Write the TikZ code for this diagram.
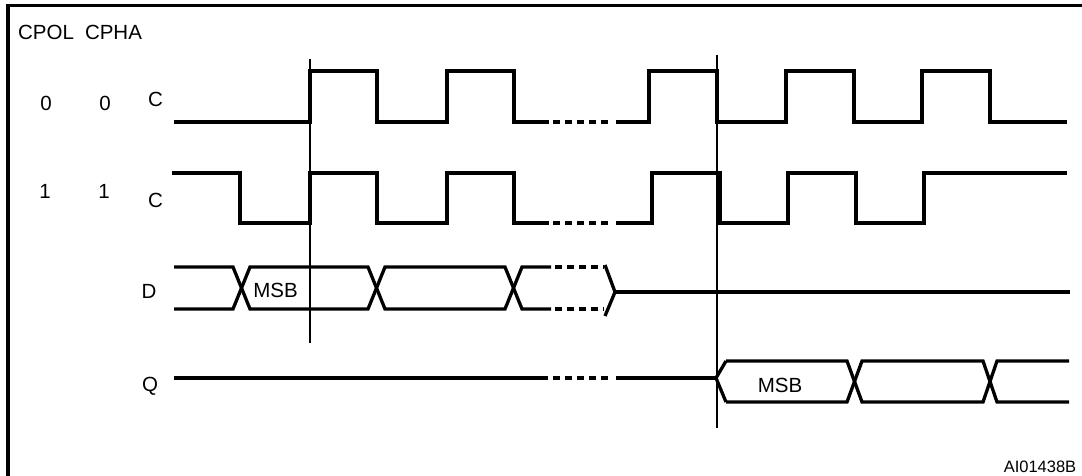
\documentclass[tikz,border=0pt]{standalone}
\usepackage{fontspec}
\setmainfont{Liberation Sans}
\begin{document}
\begin{tikzpicture}[x=1pt,y=-1pt,
  sig/.style={line width=3.3pt,line join=miter,line cap=butt},
  sigdash/.style={line width=3.3pt,dash pattern=on 7pt off 5pt},
  marker/.style={line width=1.4pt},
  frame/.style={line width=3.2pt},
  lbl/.style={font=\fontsize{20.5}{24}\selectfont,inner sep=0pt,anchor=center},
  idlbl/.style={font=\fontsize{16.5}{19}\selectfont,inner sep=0pt,anchor=center}]
\useasboundingbox (0,0) rectangle (1082,475);
\fill[white] (0,0) rectangle (1082,475);
% frame (only top and left edges visible)
\draw[frame] (8,480) -- (8,5.5) -- (1090,5.5);
% labels
\node[lbl] (cpol) at (46,32) {CPOL};
\node[lbl] (cpha) at (113.5,32) {CPHA};
\node[lbl] (pol0) at (46,103) {0};
\node[lbl] (pha0) at (105,103) {0};
\node[lbl] (c0) at (155.5,99.5) {C};
\node[lbl] (pol1) at (45,191) {1};
\node[lbl] (pha1) at (104,191) {1};
\node[lbl] (c1) at (155.5,200) {C};
\node[lbl] (dl) at (149,291) {D};
\node[lbl] (ql) at (150,386) {Q};
\node[lbl] (msbd) at (275.5,290) {MSB};
\node[lbl] (msbq) at (780,385) {MSB};
\node[idlbl] (aid) at (1040,467) {AI01438B};
% marker lines
\draw[marker] (310,59) -- (310,343);
\draw[marker] (717,55) -- (717,428);
% clock CPOL=0 CPHA=0
\draw[sig] (174,122) -- (310,122) -- (310,71) -- (377,71) -- (377,122) -- (447,122) -- (447,71) -- (514,71) -- (514,122) -- (549,122);
\draw[sigdash] (553,122) -- (612,122);
\draw[sig] (616,122) -- (649,122) -- (649,71) -- (717,71) -- (717,122) -- (786,122) -- (786,71) -- (854,71) -- (854,122) -- (922,122) -- (922,71) -- (990,71) -- (990,122) -- (1067,122);
% clock CPOL=1 CPHA=1
\draw[sig] (172,173) -- (240,173) -- (240,223) -- (310,223) -- (310,173) -- (377,173) -- (377,223) -- (447,223) -- (447,173) -- (514,173) -- (514,223) -- (549,223);
\draw[sigdash] (553,223) -- (612,223);
\draw[sig] (616,223) -- (652,223) -- (652,173) -- (720,173) -- (720,223) -- (788,223) -- (788,173) -- (856,173) -- (856,223) -- (924,223) -- (924,173) -- (1067,173);
% D
\draw[sig] (174,267) -- (233,267) -- (250,309) -- (368,309) -- (385,267) -- (505,267) -- (522,309) -- (551,309);
\draw[sig] (174,309) -- (233,309) -- (250,267) -- (368,267) -- (385,309) -- (505,309) -- (522,267) -- (551,267);
\draw[sigdash] (555,267) -- (604,267);
\draw[sigdash] (555,309) -- (604,309);
\draw[sig] (605,265) -- (615,292) -- (605,316);
\draw[sig] (615,292) -- (1070,292);
% Q
\draw[sig] (174,378) -- (548,378);
\draw[sigdash] (553,378) -- (612,378);
\draw[sig] (616,378) -- (716,378);
\draw[sig] (726,361) -- (716,378) -- (726,402);
\draw[sig] (726,361) -- (847,361) -- (862,402) -- (983,402) -- (997,361) -- (1069,361);
\draw[sig] (726,402) -- (847,402) -- (862,361) -- (983,361) -- (997,402) -- (1069,402);
\end{tikzpicture}
\end{document}
